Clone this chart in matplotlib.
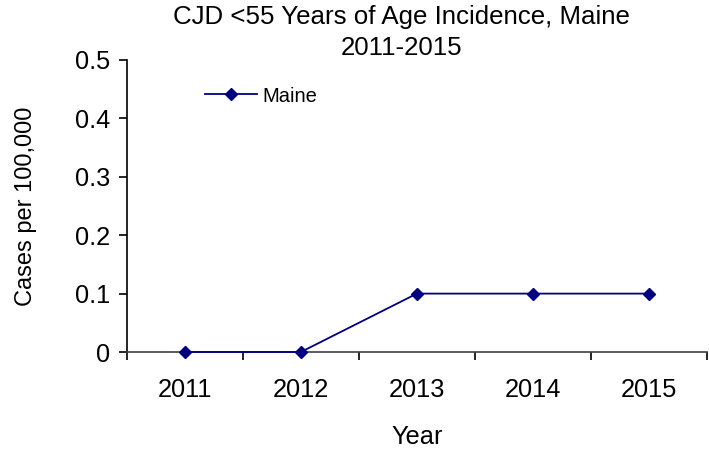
import matplotlib
matplotlib.use("Agg")
import matplotlib.pyplot as plt
from matplotlib.ticker import FixedLocator

years = ["2011", "2012", "2013", "2014", "2015"]
maine = [0.0, 0.0, 0.1, 0.1, 0.1]
yticks = [0, 0.1, 0.2, 0.3, 0.4, 0.5]
ytick_labels = ["0", "0.1", "0.2", "0.3", "0.4", "0.5"]

plt.rcParams['font.family'] = ['Liberation Sans', 'DejaVu Sans']
FS = 18.3

fig = plt.figure(figsize=(7.09, 4.51), dpi=100)
ax = fig.add_axes([0.179, 0.2195, 0.818, 0.6475])

x = list(range(len(years)))
ax.plot(x, maine, color="#000080", marker="D", markersize=6.5, linewidth=1.3, label="Maine", clip_on=False, zorder=3)

ax.set_xlim(-0.5, len(years) - 0.5)
ax.set_ylim(0, 0.5)
ax.set_yticks(yticks)
ax.set_yticklabels(ytick_labels, fontsize=FS)
ax.set_xticks(x)
ax.set_xticklabels(years, fontsize=FS)
ax.xaxis.set_minor_locator(FixedLocator([i - 0.5 for i in range(len(years) + 1)]))
ax.tick_params(axis='x', which='major', length=0, pad=19)
ax.tick_params(axis='x', which='minor', length=6, width=1.2, direction='out')
ax.tick_params(axis='y', length=6, width=1.2, direction='out', pad=6)

for s in ['top', 'right']:
    ax.spines[s].set_visible(False)
ax.spines['left'].set_linewidth(1.2)
ax.spines['bottom'].set_linewidth(1.2)
ax.spines['bottom'].set_color('#404040')

ax.set_title("CJD <55 Years of Age Incidence, Maine\n2011-2015", fontsize=18.6, pad=-1,
             linespacing=1.35, x=0.474)
ax.set_xlabel("Year", fontsize=FS, labelpad=16)
ax.set_ylabel("Cases per 100,000", fontsize=17, labelpad=27)

ax.legend(loc='center left', bbox_to_anchor=(205 / 709, 1 - 96 / 451), bbox_transform=fig.transFigure,
          frameon=False, fontsize=14.5, handlelength=2.6, handletextpad=0.25,
          borderpad=0, borderaxespad=0)

fig.savefig("out.png", dpi=100)
